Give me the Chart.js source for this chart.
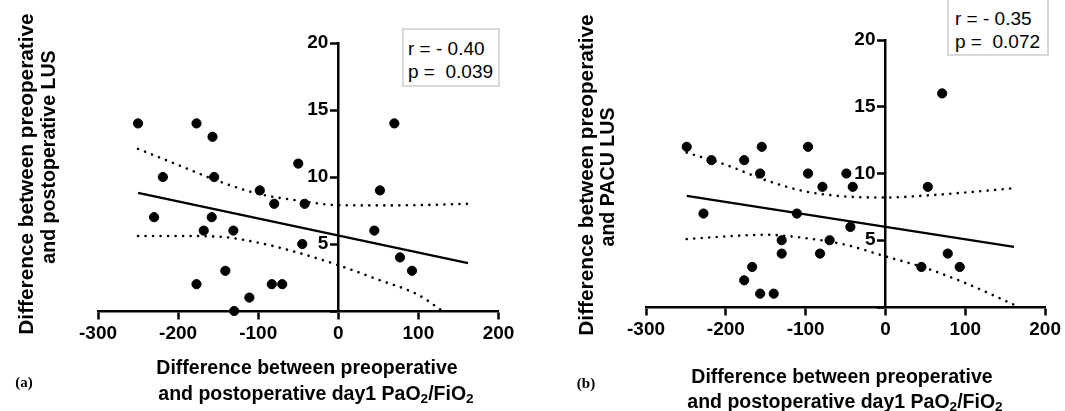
<!DOCTYPE html>
<html>
<head>
<meta charset="utf-8">
<script src="https://cdn.jsdelivr.net/npm/chart.js@4"></script>
<style>
  html, body { margin: 0; padding: 0; background: #fff; }
  #wrap { position: relative; width: 1065px; height: 411px; overflow: hidden; background: #fff; }
  canvas { position: absolute; top: 0; }
  .t { position: absolute; font-family: "Liberation Sans", Arial, sans-serif; font-weight: bold; color: #000; white-space: nowrap; line-height: 1; }
  .xt { font-size: 19.5px; transform: translateX(-50%); }
  .yt { transform: translate(-50%, -50%) rotate(-90deg); }
  .leg { position: absolute; border: 2px solid #d9d9d9; box-sizing: border-box; background: #fff; }
  .lt { position: absolute; font-family: "Liberation Sans", Arial, sans-serif; font-size: 19px; color: #000; white-space: pre; line-height: 1; }
  .pl { position: absolute; font-family: "Liberation Serif", "Times New Roman", serif; font-weight: bold; font-size: 15px; line-height: 1; transform: translate(-50%, -50%); }
  sub { font-size: 0.7em; vertical-align: -0.25em; line-height: 0; }
</style>
</head>
<body>
<div id="wrap">
  <canvas id="cA" width="540" height="411" style="left:0;width:540px;height:411px"></canvas>
  <canvas id="cB" width="525" height="411" style="left:540px;width:525px;height:411px"></canvas>

  <div class="t yt" style="left:26px;top:174px;font-size:20.8px">Difference between preoperative</div>
  <div class="t yt" style="left:48.5px;top:157px;font-size:19.6px">and postoperative LUS</div>
  <div class="t xt" style="left:307px;top:358px">Difference between preoperative</div>
  <div class="t xt" style="left:316px;top:384px">and postoperative day1 PaO<sub>2</sub>/FiO<sub>2</sub></div>
  <div class="leg" style="left:402px;top:28px;width:98px;height:59px"></div>
  <div class="lt" style="left:408px;top:39px">r = - 0.40</div>
  <div class="lt" style="left:408px;top:62px">p =  0.039</div>
  <div class="pl" style="left:24px;top:382px">(a)</div>

  <div class="t yt" style="left:586px;top:175px;font-size:20.8px">Difference between preoperative</div>
  <div class="t yt" style="left:608px;top:177px;font-size:19.6px">and PACU LUS</div>
  <div class="t xt" style="left:842px;top:367px">Difference between preoperative</div>
  <div class="t xt" style="left:845px;top:392px">and postoperative day1 PaO<sub>2</sub>/FiO<sub>2</sub></div>
  <div class="leg" style="left:947px;top:-3px;width:102px;height:59px"></div>
  <div class="lt" style="left:955px;top:9px">r = - 0.35</div>
  <div class="lt" style="left:955px;top:32px">p =  0.072</div>
  <div class="pl" style="left:586px;top:383px">(b)</div>
</div>
<script>
// ---- Data panel (a) ----
const aX = [-250, -177, -157, -219, -155, -50, -98, -80, -42, 52, 70, -230, -158, -168, -131, -45, 45, 77, 92, -141, -177, -83, -70, -111, -130];
const aY = [14, 14, 13, 10, 10, 11, 9, 8, 8, 9, 14, 7, 7, 6, 6, 5, 6, 4, 3, 3, 2, 2, 2, 1, 0];
const aFitX = [-250, 162];
const aFitY = [8.82, 3.57];
const aUpX = [-250, -200, -150, -100, -50, 0, 50, 100, 162];
const aUpY = [12.1, 10.9, 9.7, 8.75, 8.24, 7.9, 7.88, 7.9, 8.0];
const aLoX = [-250, -200, -150, -100, -50, 0, 50, 100, 130];
const aLoY = [5.6, 5.6, 5.55, 5.1, 4.35, 3.42, 2.34, 1.2, 0];

// ---- Data panel (b) ----
const bX = [-249, -218, -177, -155, -157, -97, -97, -49, -79, -41, 53, 71, -228, -111, -44, -130, -70, -130, -82, 78, -167, 45, 93, -177, -157, -140];
const bY = [12, 11, 11, 12, 10, 12, 10, 10, 9, 9, 9, 16, 7, 7, 6, 5, 5, 4, 4, 4, 3, 3, 3, 2, 1, 1];
const bFitX = [-249, 161];
const bFitY = [8.33, 4.51];
const bUpX = [-249, -200, -150, -100, -50, 0, 50, 100, 161];
const bUpY = [11.57, 10.65, 9.5, 8.65, 8.28, 8.2, 8.35, 8.58, 8.9];
const bLoX = [-249, -200, -150, -100, -50, 0, 50, 100, 161];
const bLoY = [5.09, 5.29, 5.41, 5.16, 4.66, 3.79, 2.92, 1.8, 0.17];

// ---- Axis ticks ----
const xMin = -300, xMax = 200, xStep = 100;
const yMin = 0, yMax = 20, yStep = 5;

const pts = (xs, ys) => xs.map((x, i) => ({ x: x, y: ys[i] }));

// shift y tick labels of a centred axis to the left of its tick marks
function offsetYLabels(scale) {
  if (scale.__patched) return;
  const orig = scale._computeLabelItems;
  if (typeof orig !== 'function') return;
  scale._computeLabelItems = function (ca) {
    const items = orig.call(this, ca);
    items.forEach((it) => {
      if (it.options && Array.isArray(it.options.translation)) it.options.translation[0] -= 10;
    });
    return items;
  };
  scale.__patched = true;
}

function makeChart(id, X, Y, fx, fy, ux, uy, lx, ly, pad) {
  const tickFont = { family: "'Liberation Sans', Arial, sans-serif", size: 19, weight: 'bold' };
  return new Chart(document.getElementById(id), {
    data: {
      datasets: [
        { type: 'scatter', data: pts(X, Y), backgroundColor: '#000', borderColor: '#000',
          pointRadius: 4.6, pointHoverRadius: 4.6, clip: false, order: 0 },
        { type: 'line', data: pts(fx, fy), borderColor: '#000', borderWidth: 2.3,
          pointRadius: 0, fill: false, order: 1 },
        { type: 'line', data: pts(ux, uy), borderColor: '#000', borderWidth: 2.6,
          borderDash: [0.01, 7.5], borderCapStyle: 'round', pointRadius: 0, fill: false,
          cubicInterpolationMode: 'monotone', order: 2 },
        { type: 'line', data: pts(lx, ly), borderColor: '#000', borderWidth: 2.6,
          borderDash: [0.01, 7.5], borderCapStyle: 'round', pointRadius: 0, fill: false,
          cubicInterpolationMode: 'monotone', order: 2 }
      ]
    },
    options: {
      responsive: false,
      animation: false,
      devicePixelRatio: 1,
      layout: { padding: pad },
      plugins: { legend: { display: false }, tooltip: { enabled: false }, title: { display: false } },
      events: [],
      scales: {
        x: {
          type: 'linear', min: xMin, max: xMax, position: { y: 0 },
          ticks: { stepSize: xStep, font: tickFont, color: '#000', padding: 4, maxRotation: 0, autoSkip: false },
          grid: { display: true, drawOnChartArea: false, drawTicks: true, tickLength: 7, tickWidth: 2.5, tickColor: '#000', color: '#000' },
          border: { display: true, color: '#000', width: 2.5 }
        },
        y: {
          type: 'linear', min: yMin, max: yMax, position: { x: 0 },
          afterUpdate: offsetYLabels,
          ticks: { stepSize: yStep, font: tickFont, color: '#000', padding: 3,
                   callback: (v) => (v === 0 ? '' : v) },
          grid: { display: true, drawOnChartArea: false, drawTicks: true, tickLength: 7, tickWidth: 2.5, tickColor: '#000', color: '#000' },
          border: { display: true, color: '#000', width: 2.5 }
        }
      }
    }
  });
}

makeChart('cA', aX, aY, aFitX, aFitY, aUpX, aUpY, aLoX, aLoY, { left: 98, right: 41.5, top: 43, bottom: 100 });
makeChart('cB', bX, bY, bFitX, bFitY, bUpX, bUpY, bLoX, bLoY, { left: 106, right: 19, top: 40, bottom: 104 });
</script>
</body>
</html>
